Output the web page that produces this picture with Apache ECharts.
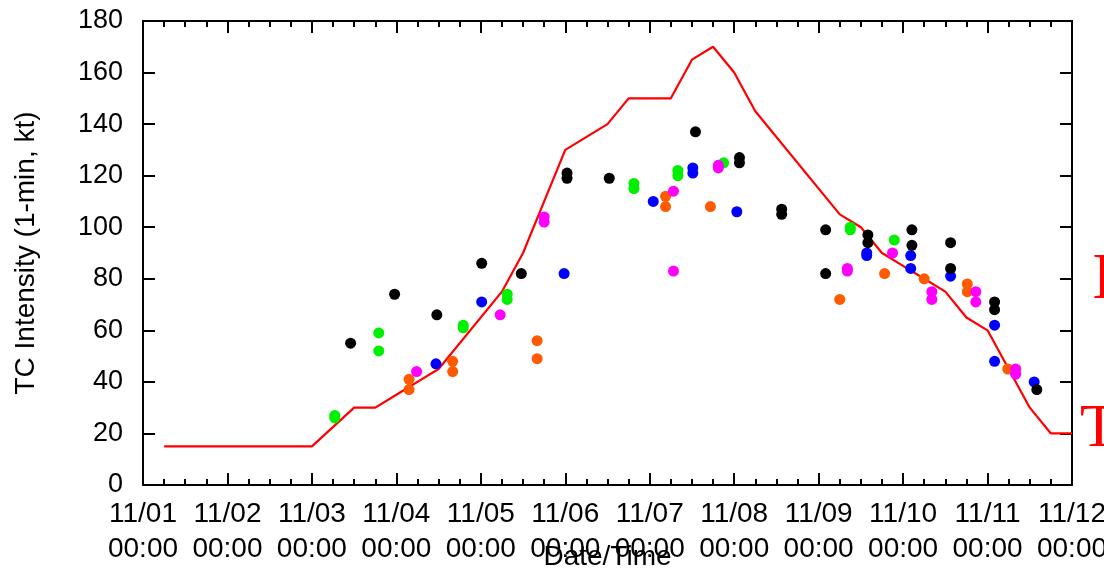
<!DOCTYPE html>
<html>
<head>
<meta charset="utf-8">
<title>TC Intensity</title>
<script src="https://cdn.jsdelivr.net/npm/echarts@6/dist/echarts.min.js"></script>
<style>
  html, body { margin: 0; padding: 0; background: #fff; }
  #chart { width: 1104px; height: 570px; }
</style>
</head>
<body>
<div id="chart"></div>
<script>
// best track (red line)
const bestTimes = ['11/01 06:00', '11/03 00:00', '11/03 12:00', '11/03 18:00', '11/04 00:00', '11/04 06:00',
  '11/04 12:00', '11/05 06:00', '11/05 12:00', '11/05 18:00', '11/06 00:00', '11/06 12:00', '11/06 18:00',
  '11/07 06:00', '11/07 12:00', '11/07 18:00', '11/08 00:00', '11/08 06:00', '11/09 06:00', '11/09 12:00',
  '11/09 18:00', '11/10 00:00', '11/10 06:00', '11/10 12:00', '11/10 18:00', '11/11 00:00', '11/11 06:00',
  '11/11 12:00', '11/11 18:00', '11/12 00:00']
const bestValues = [15, 15, 30, 30, 35, 40, 45, 75, 90, 110, 130, 140, 150, 150, 165, 170, 160, 145, 105, 100,
  90, 85, 80, 75, 65, 60, 45, 30, 20, 20]

// estimates, one list per colour
const blackTimes = ['11/03 11:00', '11/03 23:30', '11/04 11:30', '11/05 00:15', '11/05 11:30', '11/06 00:30',
  '11/06 00:30', '11/06 12:30', '11/07 13:00', '11/08 01:30', '11/08 01:30', '11/08 13:30', '11/08 13:30',
  '11/09 02:00', '11/09 02:00', '11/09 14:00', '11/09 14:00', '11/10 02:30', '11/10 02:30', '11/10 13:30',
  '11/10 13:30', '11/11 02:00', '11/11 02:00', '11/11 14:00']
const blackValues = [55, 74, 66, 86, 82, 121, 119, 119, 137, 127, 125, 107, 105, 99, 82, 97, 94, 99, 93, 94,
  84, 71, 68, 37]

const greenTimes = ['11/03 06:30', '11/03 06:30', '11/03 19:00', '11/03 19:00', '11/04 19:00', '11/04 19:00',
  '11/05 07:30', '11/05 07:30', '11/06 19:30', '11/06 19:30', '11/07 08:00', '11/07 08:00', '11/07 21:00',
  '11/09 09:00', '11/09 09:00', '11/09 21:30']
const greenValues = [26, 27, 59, 52, 61, 62, 72, 74, 117, 115, 122, 120, 125, 99, 100, 95]

const blueTimes = ['11/04 11:15', '11/05 00:15', '11/05 23:40', '11/07 01:00', '11/07 12:15', '11/07 12:15',
  '11/08 00:45', '11/09 13:40', '11/09 13:40', '11/10 02:10', '11/10 02:10', '11/10 13:30', '11/11 02:00',
  '11/11 02:00', '11/11 13:15']
const blueValues = [47, 71, 82, 110, 123, 121, 106, 90, 89, 89, 84, 81, 62, 48, 40]

const magentaTimes = ['11/04 05:45', '11/05 05:30', '11/05 18:00', '11/05 18:00', '11/07 06:45', '11/07 06:45',
  '11/07 19:30', '11/07 19:30', '11/09 08:10', '11/09 08:10', '11/09 21:00', '11/10 08:10', '11/10 08:10',
  '11/10 20:40', '11/10 20:40', '11/11 08:00', '11/11 08:00']
const magentaValues = [44, 66, 104, 102, 114, 83, 124, 123, 84, 83, 90, 75, 72, 75, 71, 45, 43]

const orangeTimes = ['11/04 03:36', '11/04 03:36', '11/04 16:00', '11/04 16:00', '11/05 16:00', '11/05 16:00',
  '11/07 04:30', '11/07 04:30', '11/07 17:15', '11/09 06:00', '11/09 18:45', '11/10 06:00', '11/10 18:15',
  '11/10 18:15', '11/11 05:45']
const orangeValues = [41, 37, 48, 44, 56, 49, 112, 108, 108, 72, 82, 80, 78, 75, 45]

// "11/dd hh:mm" -> days since 11/01 00:00
const toDay = (s) => {
  const [md, hm] = s.split(' ')
  const day = +md.split('/')[1]
  const [h, m] = hm.split(':').map(Number)
  return day - 1 + (h + m / 60) / 24
}
const pairs = (times, values) => times.map((t, i) => [toDay(t), values[i]])

const pad = (n) => (n < 10 ? '0' + n : '' + n)
const FONT = 'Liberation Sans'

const chart = echarts.init(document.getElementById('chart'), null, { renderer: 'canvas' })

const xBase = () => ({
  type: 'value',
  min: 0,
  max: 11,
  interval: 1,
  splitLine: { show: false },
  axisLine: { show: true, onZero: false, lineStyle: { color: '#000', width: 2 } },
  axisTick: { show: true, inside: true, length: 12, lineStyle: { color: '#000', width: 2 } },
  minorTick: { show: true, splitNumber: 4, length: 6, lineStyle: { color: '#000', width: 2 } }
})
const yBase = () => ({
  type: 'value',
  min: 0,
  max: 180,
  interval: 20,
  splitLine: { show: false },
  axisLine: { show: true, onZero: false, lineStyle: { color: '#000', width: 2 } },
  axisTick: { show: true, inside: true, length: 12, lineStyle: { color: '#000', width: 2 } }
})

const dot = (name, color, times, values) => ({
  name,
  type: 'scatter',
  xAxisIndex: 0,
  yAxisIndex: 0,
  symbol: 'circle',
  symbolSize: 11,
  itemStyle: { color, opacity: 1 },
  silent: true,
  data: pairs(times, values)
})

const option = {
  animation: false,
  backgroundColor: '#fff',
  grid: { left: 143, right: 32, top: 21, bottom: 85, containLabel: false, outerBoundsMode: 'none' },
  xAxis: [
    {
      ...xBase(),
      position: 'bottom',
      name: 'Date/Time',
      nameLocation: 'middle',
      nameGap: 58,
      nameMoveOverlap: false,
      nameTextStyle: { fontFamily: FONT, fontSize: 28, color: '#000' },
      axisLabel: {
        show: true,
        fontFamily: FONT,
        fontSize: 28,
        color: '#000',
        lineHeight: 35,
        margin: 12,
        hideOverlap: false,
        showMinLabel: true,
        showMaxLabel: true,
        formatter: (v) => '11/' + pad(Math.round(v) + 1) + '\n00:00'
      }
    },
    { ...xBase(), position: 'top', axisLabel: { show: false } }
  ],
  yAxis: [
    {
      ...yBase(),
      position: 'left',
      name: 'TC Intensity (1-min, kt)',
      nameLocation: 'middle',
      nameGap: 103,
      nameMoveOverlap: false,
      nameTextStyle: { fontFamily: FONT, fontSize: 28, color: '#000' },
      axisLabel: { show: true, fontFamily: FONT, fontSize: 27, color: '#000', margin: 20 }
    },
    { ...yBase(), position: 'right', axisLabel: { show: false } }
  ],
  series: [
    {
      name: 'Best track',
      type: 'line',
      xAxisIndex: 0,
      yAxisIndex: 0,
      symbol: 'none',
      lineStyle: { color: '#ff0000', width: 2.2 },
      silent: true,
      z: 1,
      data: pairs(bestTimes, bestValues)
    },
    dot('orange', '#ff5a00', orangeTimes, orangeValues),
    dot('green', '#00f000', greenTimes, greenValues),
    dot('blue', '#0000ff', blueTimes, blueValues),
    dot('magenta', '#ff00ff', magentaTimes, magentaValues),
    dot('black', '#000000', blackTimes, blackValues)
  ],
  // legend text cut by the right border of the picture
  graphic: [
    {
      type: 'text',
      x: 1092,
      y: 281,
      style: { text: 'I', fill: '#ff0000', font: '66px "Liberation Serif"', verticalAlign: 'middle' }
    },
    {
      type: 'text',
      x: 1080,
      y: 430,
      style: { text: 'T', fill: '#ff0000', font: '62px "Liberation Serif"', verticalAlign: 'middle' }
    }
  ]
}

chart.setOption(option)
</script>
</body>
</html>
